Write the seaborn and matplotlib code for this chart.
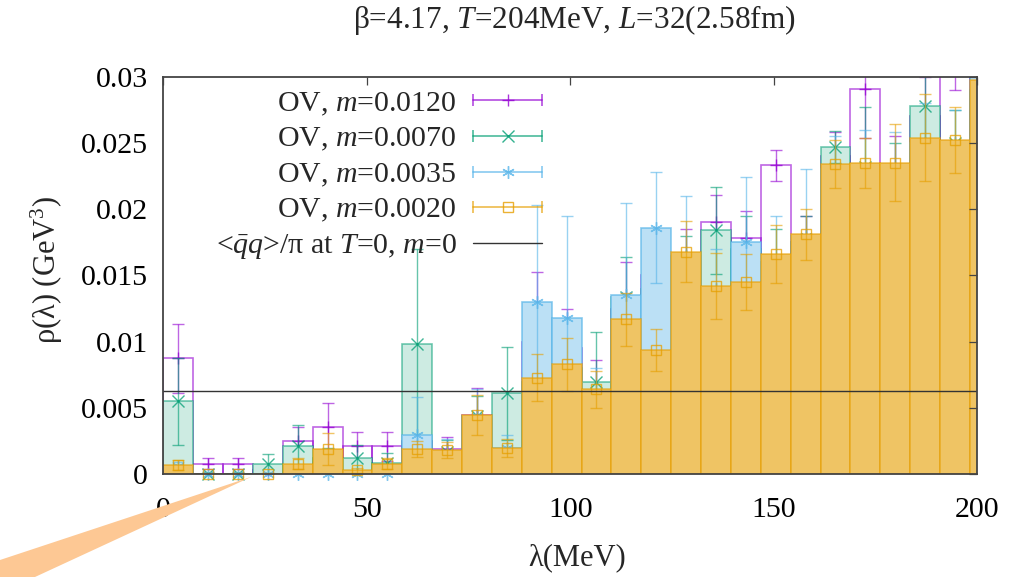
import numpy as np
import pandas as pd
import matplotlib
matplotlib.use("Agg")
import matplotlib.pyplot as plt
import seaborn as sns
from matplotlib.lines import Line2D
from matplotlib.patches import Polygon
from matplotlib.legend_handler import HandlerBase

# ---------------- data ----------------
bin_width = 7.34  # MeV
n_bins = 28
edges = [k * bin_width for k in range(n_bins + 1)]
centers = [(k + 0.5) * bin_width for k in range(n_bins)]

rho_m0120 = [0.00875, 0.0008, 0.0008, 0.0003, 0.0025, 0.0036, 0.0021, 0.0021, 0.0025, 0.0019,
             0.0045, 0.0040, 0.0100, 0.0095, 0.0062, 0.0125, 0.0150, 0.0160, 0.0190, 0.0178,
             0.0233, 0.0175, 0.0240, 0.0291, 0.0225, 0.0270, 0.0320, 0.0310]
err_m0120 = [0.0026, 0.0004, 0.0004, 0.0002, 0.0011, 0.0018, 0.0011, 0.0011, 0.0010, 0.0009,
             0.0020, 0.0015, 0.0053, 0.0030, 0.0024, 0.0035, 0.0030, 0.0025, 0.0021, 0.0021,
             0.0012, 0.0020, 0.0018, 0.0037, 0.0030, 0.0030, 0.0030, 0.0030]

rho_m0070 = [0.0055, 0.0, 0.0, 0.00075, 0.0021, 0.0012, 0.0012, 0.00088, 0.0098, 0.0017,
             0.0044, 0.0061, 0.0070, 0.0080, 0.0070, 0.0134, 0.0140, 0.0160, 0.0184, 0.0170,
             0.0160, 0.0175, 0.0247, 0.0232, 0.0225, 0.0278, 0.0250, 0.0290]
err_m0070 = [0.0033, 0.0002, 0.0002, 0.00075, 0.0016, 0.0008, 0.0010, 0.0007, 0.0072, 0.0009,
             0.0015, 0.0035, 0.0020, 0.0020, 0.0037, 0.0030, 0.0030, 0.0020, 0.0033, 0.0025,
             0.0025, 0.0020, 0.0012, 0.0045, 0.0025, 0.0030, 0.0025, 0.0030]

rho_m0035 = [0.0006, 0.0, 0.0, 0.0, 0.0, 0.0, 0.0, 0.0, 0.0030, 0.0017,
             0.0044, 0.0020, 0.0130, 0.0118, 0.0060, 0.0135, 0.0186, 0.0165, 0.0140, 0.01753,
             0.0160, 0.0180, 0.0230, 0.0230, 0.0230, 0.0250, 0.0250, 0.0320]
err_m0035 = [0.0003, 0.0001, 0.0001, 0.0001, 0.0001, 0.0001, 0.0001, 0.0001, 0.0028, 0.0010,
             0.0020, 0.0010, 0.0073, 0.0077, 0.0020, 0.0070, 0.0042, 0.0045, 0.0030, 0.0049,
             0.0035, 0.0050, 0.0025, 0.0030, 0.0028, 0.0030, 0.0025, 0.0030]

rho_m0020 = [0.0007, 0.0, 0.0, 0.0, 0.0008, 0.0019, 0.0003, 0.0008, 0.0019, 0.0018,
             0.0045, 0.0020, 0.0073, 0.0083, 0.0064, 0.0117, 0.0094, 0.0168, 0.0142, 0.0145,
             0.0166, 0.0181, 0.0234, 0.0235, 0.0235, 0.0254, 0.0252, 0.02975]
err_m0020 = [0.0004, 0.0001, 0.0001, 0.0001, 0.0004, 0.0012, 0.0002, 0.0004, 0.0006, 0.0006,
             0.0015, 0.0007, 0.0018, 0.0020, 0.0014, 0.0020, 0.0016, 0.0023, 0.0025, 0.0021,
             0.0022, 0.0019, 0.0018, 0.0019, 0.0029, 0.0033, 0.0025, 0.0025]

condensate_T0 = 0.0063  # <qq>/pi at T=0, m=0

labels = ["OV, $m$=0.0120", "OV, $m$=0.0070", "OV, $m$=0.0035", "OV, $m$=0.0020"]
line_label = "<$\\bar{q}q$>/π at $T$=0, $m$=0"
title = "β=4.17, $T$=204MeV, $L$=32(2.58fm)"
xlabel = "λ(MeV)"
ylabel = "ρ(λ) (GeV$^3$)"
xticks = [0, 50, 100, 150, 200]
yticks = [0, 0.005, 0.01, 0.015, 0.02, 0.025, 0.03]
yticklabels = ["0", "0.005", "0.01", "0.015", "0.02", "0.025", "0.03"]

# ---------------- style ----------------
sns.set_theme(style="white")
plt.rcParams["font.family"] = ["Liberation Serif", "DejaVu Serif"]
plt.rcParams["mathtext.fontset"] = "custom"
plt.rcParams["mathtext.rm"] = "Liberation Serif"
plt.rcParams["mathtext.it"] = "Liberation Serif:italic"
plt.rcParams["mathtext.bf"] = "Liberation Serif:bold"

W, H = 1027, 577
fig = plt.figure(figsize=(W / 100, H / 100), dpi=100)
ax = fig.add_axes([163.3 / W, 1 - 474.3 / H, (977.3 - 163.3) / W, (474.3 - 76.7) / H])

series = [
    dict(v=rho_m0120, e=err_m0120, col="#9400d3", face=None, edge=(0.58, 0.0, 0.83, 0.6),
         marker="+", ms=9),
    dict(v=rho_m0070, e=err_m0070, col="#009e73", face="#cdebe2", edge=(0.0, 0.62, 0.45, 0.55),
         marker="x", ms=8),
    dict(v=rho_m0035, e=err_m0035, col="#56b4e9", face="#bbe0f5", edge=(0.34, 0.71, 0.91, 0.7),
         marker=(6, 2, 0), ms=9),
    dict(v=rho_m0020, e=err_m0020, col="#e69f00", face="#efc464", edge=(0.90, 0.62, 0.0, 0.6),
         marker="s", ms=7),
]

xmax, ymax = 200, 0.03
for i, s in enumerate(series):
    zb = 1.0 + 0.3 * i
    df = pd.DataFrame({"lam": centers, "rho": s["v"]})
    if s["face"] is None:
        sns.histplot(data=df, x="lam", weights="rho", bins=edges, stat="count",
                     element="bars", fill=False, color=s["col"], alpha=0.6,
                     linewidth=1.2, ax=ax, zorder=zb)
    else:
        sns.histplot(data=df, x="lam", weights="rho", bins=edges, stat="count",
                     element="bars", fill=True, facecolor=s["face"], edgecolor=s["edge"],
                     linewidth=1.2, ax=ax, zorder=zb)
    ax.errorbar(centers, s["v"], yerr=s["e"], fmt="none", ecolor=s["col"], elinewidth=1.0,
                capsize=4.3, capthick=1.0, alpha=0.6, zorder=zb + 0.1)
    cx = np.asarray(centers)
    vy = np.asarray(s["v"])
    inside = (cx <= xmax) & (vy <= ymax)
    ax.plot(cx[inside], vy[inside], ls="none", marker=s["marker"], ms=s["ms"], mfc="none",
            mec=s["col"], mew=1.0, alpha=0.75, zorder=zb + 0.2, clip_on=False)

hline = ax.axhline(condensate_T0, color="#333333", lw=1.0, zorder=2.3)

ax.set_axisbelow(False)
ax.set_xlim(0, xmax)
ax.set_ylim(0, ymax)
ax.set_xticks(xticks)
ax.set_xticklabels([str(t) for t in xticks])
ax.set_yticks(yticks)
ax.set_yticklabels(yticklabels)
ax.set_xlabel("")
ax.set_ylabel("")
ax.tick_params(axis="both", which="major", direction="in", length=6, width=0.9,
               top=True, right=True, labelsize=21.5, color="#444444", labelcolor="black")
ax.tick_params(axis="y", pad=11)
ax.tick_params(axis="x", pad=16)
for sp in ax.spines.values():
    sp.set_color("#444444")
    sp.set_linewidth(1.3)
    sp.set_zorder(20)
ax.set_facecolor("white")

# legend with gnuplot-like samples
class HandlerGP(HandlerBase):
    def __init__(self, col, marker, ms):
        super().__init__()
        self.col, self.marker, self.ms = col, marker, ms

    def create_artists(self, legend, orig_handle, xdescent, ydescent, width, height, fontsize, trans):
        y = height / 2 - ydescent
        x0 = -xdescent
        x1 = x0 + width
        ln = Line2D([x0, x1], [y, y], color=self.col, lw=1.3, alpha=0.65)
        caps = Line2D([x0, x1], [y, y], ls="none", marker="|", ms=9, mew=1.3,
                      color=self.col, alpha=0.65)
        mk = Line2D([(x0 + x1) / 2], [y], ls="none", marker=self.marker, ms=self.ms,
                    mfc="none", mec=self.col, mew=1.0, alpha=0.8)
        for a in (ln, caps, mk):
            a.set_transform(trans)
        return [ln, caps, mk]

proxies = []
hmap = {}
for s, lab in zip(series, labels):
    p = Line2D([], [], color=s["col"])
    proxies.append(p)
    hmap[p] = HandlerGP(s["col"], s["marker"], s["ms"])
proxies.append(hline)
all_labels = labels + [line_label]

leg = ax.legend(proxies, all_labels, handler_map=hmap, loc="upper right",
                bbox_to_anchor=(542 / W, 1 - 90 / H), bbox_transform=fig.transFigure,
                frameon=False, markerfirst=False, fontsize=21.5, handlelength=2.3,
                handletextpad=0.55, labelspacing=0.27, borderpad=0, borderaxespad=0)
leg.set_zorder(30)

# texts
fig.text(574 / W, 1 - 20 / H, title, ha="center", va="center", fontsize=22.5)
fig.text(577 / W, 1 - 558 / H, xlabel, ha="center", va="center", fontsize=22)
fig.text(47 / W, 1 - 270 / H, ylabel, ha="center", va="center", rotation=90, fontsize=22)

# callout wedge
wedge = Polygon([(251.7 / W, 1 - 476.7 / H), (0, 1 - 560 / H), (0, 0), (35 / W, 0)],
                closed=True, transform=fig.transFigure, facecolor="#fdc894",
                edgecolor="none", zorder=5)
fig.patches.append(wedge)

fig.savefig("out.png", dpi=100)
